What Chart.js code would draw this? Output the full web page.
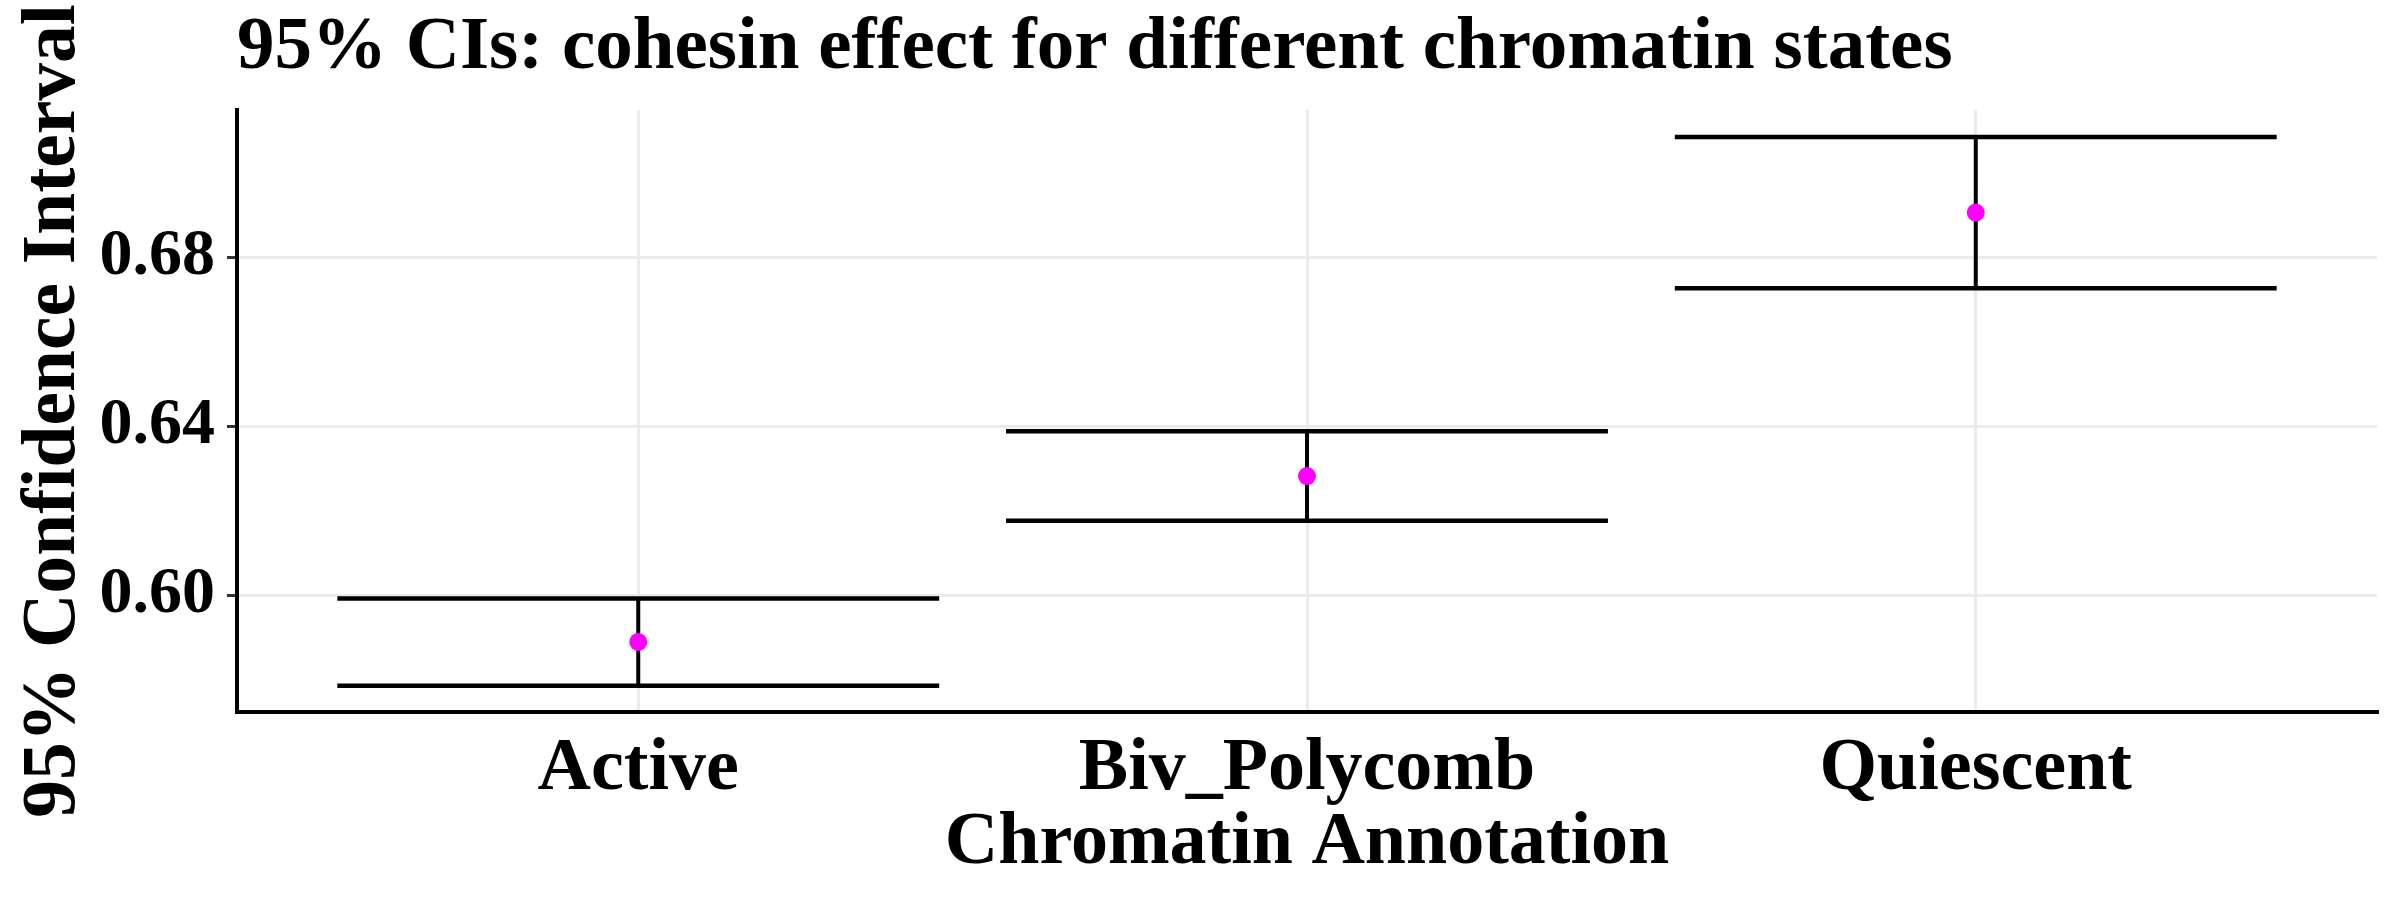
<!DOCTYPE html>
<html><head><meta charset="utf-8">
<script src="https://cdn.jsdelivr.net/npm/chart.js@4"></script>
<style>html,body{margin:0;padding:0;background:#fff}#wrap{width:2400px;height:900px}</style>
</head><body><div id="wrap"><canvas id="c" width="2400" height="900"></canvas></div>
<script>
const categories = ['Active', 'Biv_Polycomb', 'Quiescent'];
const estimates = [0.5889, 0.6282, 0.6906];
const lowerCI = [0.5785, 0.6176, 0.6727];
const upperCI = [0.5992, 0.6388, 0.7085];
const yTicks = [0.60, 0.64, 0.68];
const xPositions = categories.map((c, i) => i + 1);
const capHalf = 0.45;

const FONT = '"Liberation Serif", "Times New Roman", Times, serif';

const datasets = [{
  label: 'estimate',
  order: 0,
  data: categories.map((c, i) => ({x: xPositions[i], y: estimates[i]})),
  pointRadius: 9,
  pointHoverRadius: 9,
  pointBackgroundColor: '#FF00FF',
  pointBorderColor: '#FF00FF',
  pointBorderWidth: 0,
  showLine: false
}];
categories.forEach((c, i) => {
  const x = xPositions[i];
  const common = {order: 1, showLine: true, pointRadius: 0, pointHoverRadius: 0, borderColor: '#000', fill: false};
  datasets.push(Object.assign({label: c + ' lower', borderWidth: 4.5,
    data: [{x: x - capHalf, y: lowerCI[i]}, {x: x + capHalf, y: lowerCI[i]}]}, common));
  datasets.push(Object.assign({label: c + ' upper', borderWidth: 4.5,
    data: [{x: x - capHalf, y: upperCI[i]}, {x: x + capHalf, y: upperCI[i]}]}, common));
  datasets.push(Object.assign({label: c + ' range', borderWidth: 4,
    data: [{x: x, y: lowerCI[i]}, {x: x, y: upperCI[i]}]}, common));
});

new Chart(document.getElementById('c'), {
  type: 'scatter',
  data: {datasets},
  options: {
    responsive: false,
    animation: false,
    devicePixelRatio: 1,
    layout: {padding: {left: 0, right: 23, top: 0, bottom: 0}},
    plugins: {
      legend: {display: false},
      tooltip: {enabled: false},
      title: {
        display: true,
        text: '95% CIs: cohesin effect for different chromatin states',
        align: 'start',
        fullSize: false,
        color: '#000',
        font: {family: FONT, weight: 'bold', size: 75, lineHeight: 1.2},
        padding: {top: 4, bottom: 16}
      }
    },
    scales: {
      x: {
        type: 'linear',
        min: 0.4, max: 3.6,
        afterBuildTicks: s => { s.ticks = xPositions.map(v => ({value: v})); },
        afterFit: s => { s.height = 188; },
        ticks: {
          callback: v => categories[Math.round(v) - 1] || '',
          color: '#000',
          font: {family: FONT, weight: 'bold', size: 74},
          padding: 3, maxRotation: 0, autoSkip: false
        },
        grid: {color: '#EBEBEB', lineWidth: 3, tickLength: 10, tickColor: 'rgba(0,0,0,0)'},
        border: {display: true, color: '#000', width: 4},
        title: {
          display: true, text: 'Chromatin Annotation', color: '#000',
          font: {family: FONT, weight: 'bold', size: 74, lineHeight: 1.2},
          padding: {top: 0, bottom: 12}
        }
      },
      y: {
        type: 'linear',
        min: 0.5723, max: 0.7149,
        afterBuildTicks: s => { s.ticks = yTicks.map(v => ({value: v})); },
        afterFit: s => { s.width = 237; },
        ticks: {
          callback: v => Number(v).toFixed(2),
          color: '#000',
          font: {family: FONT, weight: 'bold', size: 66},
          padding: 12
        },
        grid: {color: '#EBEBEB', lineWidth: 3, tickLength: 10, tickColor: '#333'},
        border: {display: true, color: '#000', width: 4},
        title: {
          display: true, text: '95% Confidence Interval', color: '#000',
          font: {family: FONT, weight: 'bold', size: 75.5, lineHeight: 1.2},
          padding: {top: 9, bottom: 0}
        }
      }
    }
  }
});
</script></body></html>
